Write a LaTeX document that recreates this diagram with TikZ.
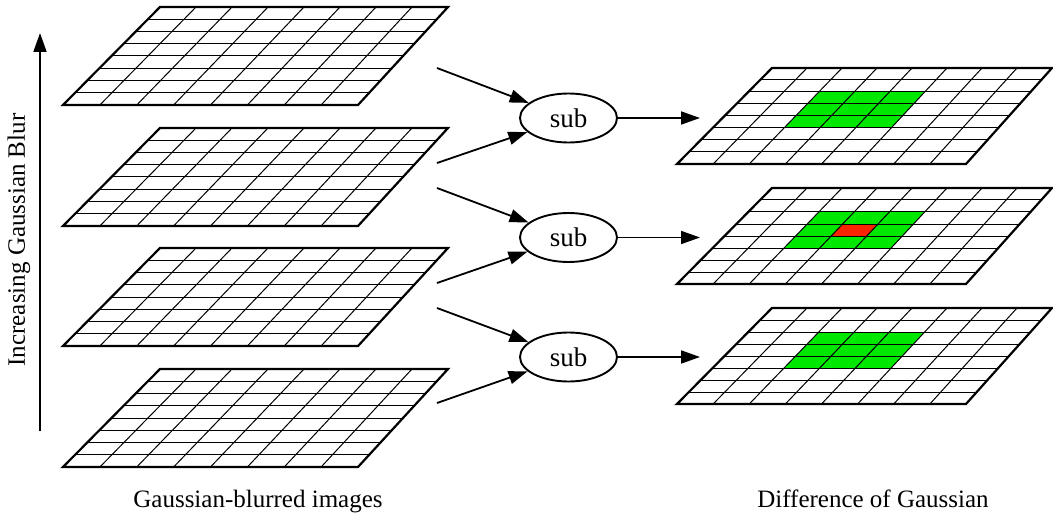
\documentclass[tikz,border=0pt]{standalone}
\usepackage{fontspec}
\setmainfont{Liberation Serif}
\usetikzlibrary{calc,arrows.meta,shapes.geometric}

\definecolor{cellgreen}{RGB}{0,232,0}
\definecolor{cellred}{RGB}{250,36,0}

\tikzset{
  frame/.style={line width=2.2pt, line join=miter},
  gridline/.style={line width=1pt},
  link/.style={line width=1.8pt, -{Triangle[length=19pt,width=13pt]}},
  subop/.style={ellipse, draw, line width=1.9pt, minimum width=97pt,
    minimum height=49pt, inner sep=0pt, font=\fontsize{27}{32}\selectfont},
  caption/.style={font=\fontsize{25}{30}\selectfont, anchor=base},
}

% quadrilateral patch of a grid: u from #1 to #2, v (from bottom) from #3 to #4
\newcommand{\gridpatch}[5]{%
  \coordinate (p1) at ($(bl)!#1!(br)$);
  \coordinate (q1) at ($(tl)!#1!(tr)$);
  \coordinate (p2) at ($(bl)!#2!(br)$);
  \coordinate (q2) at ($(tl)!#2!(tr)$);
  \fill[#5] ($(p1)!#3!(q1)$) -- ($(p2)!#3!(q2)$) -- ($(p2)!#4!(q2)$)
    -- ($(p1)!#4!(q1)$) -- cycle;
}

% 8x8 grid lines and frame on corners bl, br, tr, tl
\newcommand{\gridlines}{%
  \foreach \k in {1,...,7}{
    \draw[gridline] ($(bl)!\k/8!(tl)$) -- ($(br)!\k/8!(tr)$);
    \draw[gridline] ($(bl)!\k/8!(br)$) -- ($(tl)!\k/8!(tr)$);
  }
  \draw[frame] (bl) -- (br) -- (tr) -- (tl) -- cycle;
}

\begin{document}
\begin{tikzpicture}[x=1pt, y=-1pt]
  \useasboundingbox (0,0) rectangle (1053,516);

  % Gaussian-blurred stack (left)
  \foreach \dy in {0,121,241,362}{
    \begin{scope}[shift={(0,\dy)}]
      \coordinate (bl) at (63,105);
      \coordinate (br) at (358,105);
      \coordinate (tr) at (448,7);
      \coordinate (tl) at (160,7);
      \gridlines
    \end{scope}
  }

  % Difference-of-Gaussian stack (right)
  \foreach \dy/\center in {0/0,120/1,240/0}{
    \begin{scope}[shift={(0,\dy)}]
      \coordinate (bl) at (677,164);
      \coordinate (br) at (966,164);
      \coordinate (tr) at (1052,68);
      \coordinate (tl) at (772,68);
      \gridpatch{2/8}{5/8}{3/8}{6/8}{cellgreen}
      \ifnum\center=1 \gridpatch{3/8}{4/8}{4/8}{5/8}{cellred}\fi
      \gridlines
    \end{scope}
  }

  % subtraction nodes
  \node[subop] (s1) at (568.5,118) {sub};
  \node[subop] (s2) at (568.5,237.5) {sub};
  \node[subop] (s3) at (568.5,357) {sub};

  % arrow ends
  \coordinate (a1) at (437,68);   \coordinate (b1) at (437,163);
  \coordinate (a2) at (437,188);  \coordinate (b2) at (437,283);
  \coordinate (a3) at (437,308);  \coordinate (b3) at (437,403);
  \coordinate (d1) at (700,118);
  \coordinate (d2) at (700,237.5);
  \coordinate (d3) at (700,357);

  \foreach \i in {1,2,3}{
    \draw[link] (a\i) -- (s\i);
    \draw[link] (b\i) -- (s\i);
    \draw[link] (s\i.east) -- (d\i);
  }

  % blur axis
  \coordinate (axlo) at (40,431);
  \coordinate (axhi) at (40,33);
  \draw[link] (axlo) -- (axhi);
  \node[font=\fontsize{25}{30}\selectfont, rotate=90] (axlabel) at (19,240)
    {Increasing Gaussian Blur};

  % captions
  \node[caption] (capl) at (258,507) {Gaussian-blurred images};
  \node[caption] (capr) at (873,507) {Difference of Gaussian};
\end{tikzpicture}
\end{document}
